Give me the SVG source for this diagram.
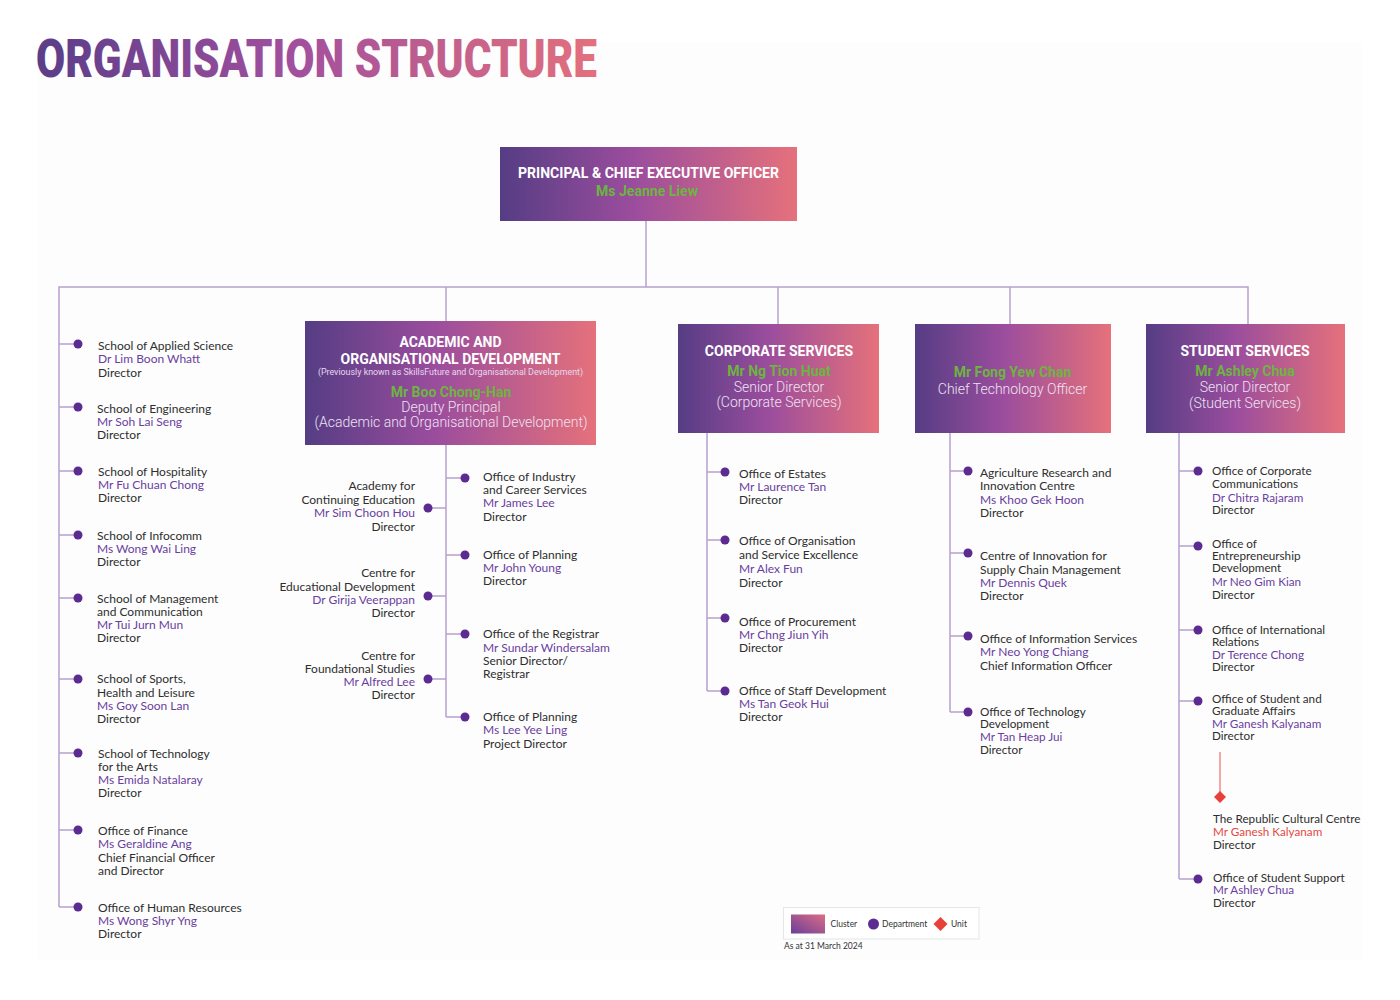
<svg xmlns="http://www.w3.org/2000/svg" width="1400" height="1000" viewBox="0 0 1400 1000">
<defs>
<linearGradient id="gBox" x1="0" y1="0" x2="1" y2="0">
<stop offset="0" stop-color="#553d84"/>
<stop offset="0.45" stop-color="#9b4d9d"/>
<stop offset="1" stop-color="#e5717b"/>
</linearGradient>
<linearGradient id="gTitle" gradientUnits="userSpaceOnUse" x1="36" y1="0" x2="597" y2="0">
<stop offset="0" stop-color="#5a3d88"/>
<stop offset="0.45" stop-color="#a04f9e"/>
<stop offset="1" stop-color="#e3707c"/>
</linearGradient>
<linearGradient id="gLeg" x1="0" y1="1" x2="1" y2="0">
<stop offset="0" stop-color="#6a3f98"/>
<stop offset="1" stop-color="#dc6c86"/>
</linearGradient>
<style>
.t{font-family:Lato,"Liberation Sans",sans-serif;font-size:12px;fill:#2e2e2e}
.s{font-size:11.7px}
.n{fill:#6a3d9f}
.r{fill:#e2493f}
.e{text-anchor:end}
.dot{fill:#5b2b92}
.conn{stroke:#b8a0cf;stroke-width:1.5;fill:none}
.box{fill:url(#gBox)}
.bt{font-family:Roboto,"Liberation Sans",sans-serif;font-weight:700;font-size:14px;fill:#ffffff;text-anchor:middle}
.bn{font-family:Roboto,"Liberation Sans",sans-serif;font-weight:700;font-size:14px;fill:#6db540;text-anchor:middle}
.br{font-family:Roboto,"Liberation Sans",sans-serif;font-weight:300;font-size:14px;fill:#eee3f2;text-anchor:middle}
.bs{font-family:Roboto,"Liberation Sans",sans-serif;font-size:8.9px;fill:#e6d8ee;text-anchor:middle}
.lg{font-family:Lato,"Liberation Sans",sans-serif;font-size:8.5px;fill:#333}
</style>
</defs>
<rect x="0" y="0" width="1400" height="1000" fill="#ffffff"/>
<rect x="38" y="42" width="1324" height="918" fill="#fdfdfd"/>
<text x="36" y="77" font-family="Roboto,'Liberation Sans',sans-serif" font-weight="900" font-size="53" fill="url(#gTitle)" textLength="561" lengthAdjust="spacingAndGlyphs">ORGANISATION STRUCTURE</text>

<g id="connectors">
<path class="conn" d="M646 221 V287"/>
<path class="conn" d="M59 907 V287 H1248 V324"/>
<path class="conn" d="M446 287 V321"/>
<path class="conn" d="M778 287 V324"/>
<path class="conn" d="M1010 287 V324"/>
<path class="conn" d="M59 344 H78 M59 407 H78 M59 471 H78 M59 535 H78 M59 598 H78 M59 679 H78 M59 753 H78 M59 830 H78 M59 907 H78"/>
<path class="conn" d="M446 445 V717 M446 478 H465 M446 555 H465 M446 634 H465 M446 717 H465 M428 508 H446 M428 596 H446 M428 679 H446"/>
<path class="conn" d="M707 433 V691 M707 472 H725 M707 540 H725 M707 618 H725 M707 691 H725"/>
<path class="conn" d="M950 433 V712 M950 471 H968 M950 553 H968 M950 636 H968 M950 712 H968"/>
<path class="conn" d="M1179 433 V879 M1179 471 H1198 M1179 546 H1198 M1179 630 H1198 M1179 701 H1198 M1179 879 H1198"/>
<path d="M1220 752 V793" stroke="#f08a84" stroke-width="1.5" fill="none"/>
</g>

<g id="principal">
<rect class="box" x="500" y="147" width="297" height="74"/>
<text class="bt" x="648.5" y="178" textLength="261" lengthAdjust="spacingAndGlyphs">PRINCIPAL &amp; CHIEF EXECUTIVE OFFICER</text>
<text class="bn" x="647" y="196" textLength="102" lengthAdjust="spacingAndGlyphs">Ms Jeanne Liew</text>
</g>

<g id="aod">
<rect class="box" x="305" y="321" width="291" height="124"/>
<text class="bt" x="450.5" y="347">ACADEMIC AND</text>
<text class="bt" x="450.5" y="363.5">ORGANISATIONAL DEVELOPMENT</text>
<text class="bs" x="450.5" y="374.5">(Previously known as SkillsFuture and Organisational Development)</text>
<text class="bn" x="451" y="397">Mr Boo Chong-Han</text>
<text class="br" x="451" y="412">Deputy Principal</text>
<text class="br" x="451" y="427">(Academic and Organisational Development)</text>
</g>

<g id="corporate">
<rect class="box" x="678" y="324" width="201" height="109"/>
<text class="bt" x="779" y="356">CORPORATE SERVICES</text>
<text class="bn" x="779" y="376">Mr Ng Tion Huat</text>
<text class="br" x="779" y="392">Senior Director</text>
<text class="br" x="779" y="407">(Corporate Services)</text>
</g>

<g id="cto">
<rect class="box" x="915" y="324" width="196" height="109"/>
<text class="bn" x="1012.5" y="377">Mr Fong Yew Chan</text>
<text class="br" x="1012.5" y="393.5">Chief Technology Officer</text>
</g>

<g id="student">
<rect class="box" x="1146" y="324" width="199" height="109"/>
<text class="bt" x="1245" y="356">STUDENT SERVICES</text>
<text class="bn" x="1245" y="376">Mr Ashley Chua</text>
<text class="br" x="1245" y="392">Senior Director</text>
<text class="br" x="1245" y="407.5">(Student Services)</text>
</g>

<!-- Left column -->
<g id="applied-science"><circle class="dot" cx="78" cy="344" r="4.5"/>
<text class="t"><tspan x="98" y="350">School of Applied Science</tspan><tspan class="n" x="98" y="363.3">Dr Lim Boon Whatt</tspan><tspan x="98" y="376.7">Director</tspan></text></g>
<g id="engineering"><circle class="dot" cx="78" cy="407" r="4.5"/>
<text class="t"><tspan x="97" y="412.7">School of Engineering</tspan><tspan class="n" x="97" y="426">Mr Soh Lai Seng</tspan><tspan x="97" y="439.3">Director</tspan></text></g>
<g id="hospitality"><circle class="dot" cx="78" cy="471" r="4.5"/>
<text class="t"><tspan x="98" y="476">School of Hospitality</tspan><tspan class="n" x="98" y="489.3">Mr Fu Chuan Chong</tspan><tspan x="98" y="502">Director</tspan></text></g>
<g id="infocomm"><circle class="dot" cx="78" cy="535" r="4.5"/>
<text class="t"><tspan x="97" y="540">School of Infocomm</tspan><tspan class="n" x="97" y="553.3">Ms Wong Wai Ling</tspan><tspan x="97" y="566">Director</tspan></text></g>
<g id="management"><circle class="dot" cx="78" cy="598" r="4.5"/>
<text class="t"><tspan x="97" y="603">School of Management</tspan><tspan x="97" y="616">and Communication</tspan><tspan class="n" x="97" y="629">Mr Tui Jurn Mun</tspan><tspan x="97" y="642">Director</tspan></text></g>
<g id="sports"><circle class="dot" cx="78" cy="679" r="4.5"/>
<text class="t"><tspan x="97" y="683.3">School of Sports,</tspan><tspan x="97" y="696.7">Health and Leisure</tspan><tspan class="n" x="97" y="710">Ms Goy Soon Lan</tspan><tspan x="97" y="723">Director</tspan></text></g>
<g id="tech-arts"><circle class="dot" cx="78" cy="753" r="4.5"/>
<text class="t"><tspan x="98" y="758.3">School of Technology</tspan><tspan x="98" y="771">for the Arts</tspan><tspan class="n" x="98" y="784">Ms Emida Natalaray</tspan><tspan x="98" y="797">Director</tspan></text></g>
<g id="finance"><circle class="dot" cx="78" cy="830" r="4.5"/>
<text class="t"><tspan x="98" y="835.3">Office of Finance</tspan><tspan class="n" x="98" y="848.3">Ms Geraldine Ang</tspan><tspan x="98" y="861.7">Chief Financial Officer</tspan><tspan x="98" y="875">and Director</tspan></text></g>
<g id="hr"><circle class="dot" cx="78" cy="907" r="4.5"/>
<text class="t"><tspan x="98" y="911.7">Office of Human Resources</tspan><tspan class="n" x="98" y="925">Ms Wong Shyr Yng</tspan><tspan x="98" y="938.3">Director</tspan></text></g>

<!-- AOD branches -->
<g id="ace"><circle class="dot" cx="428" cy="508" r="4.5"/>
<text class="t e"><tspan x="415" y="490">Academy for</tspan><tspan x="415" y="504">Continuing Education</tspan><tspan class="n" x="415" y="517">Mr Sim Choon Hou</tspan><tspan x="415" y="531">Director</tspan></text></g>
<g id="ced"><circle class="dot" cx="428" cy="596" r="4.5"/>
<text class="t e"><tspan x="415" y="577">Centre for</tspan><tspan x="415" y="591">Educational Development</tspan><tspan class="n" x="415" y="604">Dr Girija Veerappan</tspan><tspan x="415" y="617">Director</tspan></text></g>
<g id="cfs"><circle class="dot" cx="428" cy="679" r="4.5"/>
<text class="t e"><tspan x="415" y="660">Centre for</tspan><tspan x="415" y="673">Foundational Studies</tspan><tspan class="n" x="415" y="686">Mr Alfred Lee</tspan><tspan x="415" y="699">Director</tspan></text></g>
<g id="ocs"><circle class="dot" cx="465" cy="478" r="4.5"/>
<text class="t"><tspan x="483" y="481">Office of Industry</tspan><tspan x="483" y="494">and Career Services</tspan><tspan class="n" x="483" y="507">Mr James Lee</tspan><tspan x="483" y="521">Director</tspan></text></g>
<g id="planning1"><circle class="dot" cx="465" cy="555" r="4.5"/>
<text class="t"><tspan x="483" y="559">Office of Planning</tspan><tspan class="n" x="483" y="572">Mr John Young</tspan><tspan x="483" y="585">Director</tspan></text></g>
<g id="registrar"><circle class="dot" cx="465" cy="634" r="4.5"/>
<text class="t"><tspan x="483" y="638">Office of the Registrar</tspan><tspan class="n" x="483" y="652">Mr Sundar Windersalam</tspan><tspan x="483" y="664.5">Senior Director/</tspan><tspan x="483" y="678">Registrar</tspan></text></g>
<g id="planning2"><circle class="dot" cx="465" cy="717" r="4.5"/>
<text class="t"><tspan x="483" y="721">Office of Planning</tspan><tspan class="n" x="483" y="734">Ms Lee Yee Ling</tspan><tspan x="483" y="748">Project Director</tspan></text></g>

<!-- Corporate branches -->
<g id="estates"><circle class="dot" cx="725" cy="472" r="4.5"/>
<text class="t"><tspan x="739" y="478">Office of Estates</tspan><tspan class="n" x="739" y="491">Mr Laurence Tan</tspan><tspan x="739" y="504">Director</tspan></text></g>
<g id="ose"><circle class="dot" cx="725" cy="540" r="4.5"/>
<text class="t"><tspan x="739" y="545">Office of Organisation</tspan><tspan x="739" y="559">and Service Excellence</tspan><tspan class="n" x="739" y="572.5">Mr Alex Fun</tspan><tspan x="739" y="586.5">Director</tspan></text></g>
<g id="procurement"><circle class="dot" cx="725" cy="618" r="4.5"/>
<text class="t"><tspan x="739" y="626">Office of Procurement</tspan><tspan class="n" x="739" y="639">Mr Chng Jiun Yih</tspan><tspan x="739" y="652">Director</tspan></text></g>
<g id="staff-dev"><circle class="dot" cx="725" cy="691" r="4.5"/>
<text class="t"><tspan x="739" y="695">Office of Staff Development</tspan><tspan class="n" x="739" y="708">Ms Tan Geok Hui</tspan><tspan x="739" y="721">Director</tspan></text></g>

<!-- CTO branches -->
<g id="aric"><circle class="dot" cx="968" cy="471" r="4.5"/>
<text class="t"><tspan x="980" y="477">Agriculture Research and</tspan><tspan x="980" y="490">Innovation Centre</tspan><tspan class="n" x="980" y="503.5">Ms Khoo Gek Hoon</tspan><tspan x="980" y="517">Director</tspan></text></g>
<g id="scm"><circle class="dot" cx="968" cy="553" r="4.5"/>
<text class="t"><tspan x="980" y="560">Centre of Innovation for</tspan><tspan x="980" y="573.5">Supply Chain Management</tspan><tspan class="n" x="980" y="587">Mr Dennis Quek</tspan><tspan x="980" y="599.5">Director</tspan></text></g>
<g id="ois"><circle class="dot" cx="968" cy="636" r="4.5"/>
<text class="t"><tspan x="980" y="642.5">Office of Information Services</tspan><tspan class="n" x="980" y="656">Mr Neo Yong Chiang</tspan><tspan x="980" y="669.5">Chief Information Officer</tspan></text></g>
<g id="otd"><circle class="dot" cx="968" cy="712" r="4.5"/>
<text class="t s"><tspan x="980" y="715.7">Office of Technology</tspan><tspan x="980" y="728">Development</tspan><tspan class="n" x="980" y="741">Mr Tan Heap Jui</tspan><tspan x="980" y="754">Director</tspan></text></g>

<!-- Student branches -->
<g id="occ"><circle class="dot" cx="1198" cy="471" r="4.5"/>
<text class="t s"><tspan x="1212" y="475">Office of Corporate</tspan><tspan x="1212" y="487.5">Communications</tspan><tspan class="n" x="1212" y="501.5">Dr Chitra Rajaram</tspan><tspan x="1212" y="514">Director</tspan></text></g>
<g id="oed"><circle class="dot" cx="1198" cy="546" r="4.5"/>
<text class="t s"><tspan x="1212" y="547.5">Office of</tspan><tspan x="1212" y="559.5">Entrepreneurship</tspan><tspan x="1212" y="572">Development</tspan><tspan class="n" x="1212" y="586">Mr Neo Gim Kian</tspan><tspan x="1212" y="599">Director</tspan></text></g>
<g id="oir"><circle class="dot" cx="1198" cy="630" r="4.5"/>
<text class="t s"><tspan x="1212" y="634">Office of International</tspan><tspan x="1212" y="645.7">Relations</tspan><tspan class="n" x="1212" y="658.5">Dr Terence Chong</tspan><tspan x="1212" y="671">Director</tspan></text></g>
<g id="osga"><circle class="dot" cx="1198" cy="701" r="4.5"/>
<text class="t s"><tspan x="1212" y="702.8">Office of Student and</tspan><tspan x="1212" y="715">Graduate Affairs</tspan><tspan class="n" x="1212" y="727.8">Mr Ganesh Kalyanam</tspan><tspan x="1212" y="740">Director</tspan></text></g>
<g id="rcc"><path d="M1220 791 L1226 797 L1220 803 L1214 797 Z" fill="#e8413a"/>
<text class="t s"><tspan x="1213" y="823.3">The Republic Cultural Centre</tspan><tspan class="r" x="1213" y="836">Mr Ganesh Kalyanam</tspan><tspan x="1213" y="849">Director</tspan></text></g>
<g id="oss"><circle class="dot" cx="1198" cy="879" r="4.5"/>
<text class="t s"><tspan x="1213" y="882.3">Office of Student Support</tspan><tspan class="n" x="1213" y="894.2">Mr Ashley Chua</tspan><tspan x="1213" y="907">Director</tspan></text></g>

<g id="legend">
<rect x="783.5" y="907.5" width="195.5" height="31.5" fill="#ffffff" stroke="#dfe9e6" stroke-width="1"/>
<rect x="791" y="914.5" width="34" height="19" fill="url(#gLeg)"/>
<text class="lg" x="830.5" y="927">Cluster</text>
<circle cx="873.5" cy="924" r="5.5" fill="#5b2b92"/>
<text class="lg" x="882" y="927">Department</text>
<path d="M940.5 917 L947.5 924 L940.5 931 L933.5 924 Z" fill="#e8413a"/>
<text class="lg" x="951" y="927">Unit</text>
<text class="lg" x="784" y="949" font-size="8">As at 31 March 2024</text>
</g>
</svg>
